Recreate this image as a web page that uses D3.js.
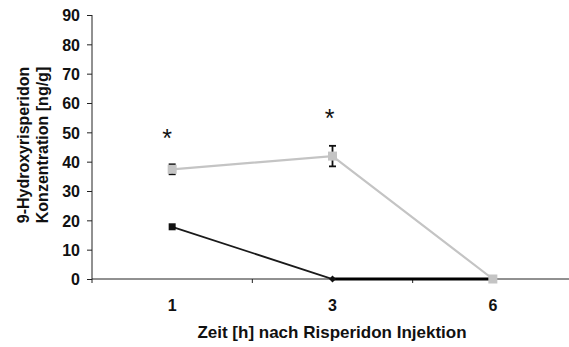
<!DOCTYPE html>
<html><head><meta charset="utf-8">
<script src="https://cdn.jsdelivr.net/npm/d3@7"></script>
<style>body{margin:0;background:#fff}svg{display:block}text{font-family:"Liberation Sans",Arial,sans-serif;font-weight:bold;fill:#111}</style>
</head><body>
<script>
const categories = ["1","3","6"];
const hydroxy = [37.4, 41.9, 0];      // gray series
const hydroxyErr = [1.7, 3.5, 0];
const black = [17.8, 0, 0];            // black series
const stars = [49.4, 56.3, null];
const yTicks = [0,10,20,30,40,50,60,70,80,90];

const W=569,H=347, x0=92, x1=573, yTop=15, yBot=279;
const svg=d3.select("body").append("svg").attr("width",W).attr("height",H);
const x=d3.scaleBand().domain(categories).range([x0,x1]);
const cx=d=>x(d)+x.bandwidth()/2;
const y=d3.scaleLinear().domain([0,90]).range([yBot,yTop]);

// y axis
const ya=svg.append("g").attr("transform",`translate(${x0},0)`).call(d3.axisLeft(y).tickValues(yTicks).tickSize(5).tickPadding(7));
ya.selectAll("text").style("font-size","16px").attr("dy","0.36em");
ya.select(".domain").attr("stroke","#222").attr("d",`M-0,${yTop}H0V${yBot}`);
ya.selectAll(".tick line").attr("stroke","#222");
// x axis
const xa=svg.append("g").attr("transform",`translate(0,${yBot})`);
xa.append("line").attr("x1",x0).attr("x2",W).attr("y1",0).attr("y2",0).attr("stroke","#222");
[0,1,2].forEach(i=>xa.append("line").attr("x1",x0+i*x.bandwidth()).attr("x2",x0+i*x.bandwidth()).attr("y1",0).attr("y2",4).attr("stroke","#222"));
xa.selectAll("text.cat").data(categories).enter().append("text").attr("class","cat")
 .attr("x",d=>cx(d)).attr("y",32).attr("text-anchor","middle").style("font-size","16px").text(d=>d);

// lines
const line=d3.line().x((d,i)=>cx(categories[i])).y(d=>y(d));
svg.append("path").datum(black).attr("d",line).attr("fill","none").attr("stroke","#1a1a1a").attr("stroke-width",1.8);
svg.append("path").datum(black.slice(1)).attr("d",d3.line().x((d,i)=>cx(categories[i+1])).y(d=>y(d)))
  .attr("fill","none").attr("stroke","#000").attr("stroke-width",3);
svg.append("path").datum(hydroxy).attr("d",line).attr("fill","none").attr("stroke","#c4c4c4").attr("stroke-width",2.2);

// error bars
hydroxy.forEach((v,i)=>{ const e=hydroxyErr[i]; if(!e) return; const c=cx(categories[i]);
  const g=svg.append("g").attr("stroke","#111").attr("stroke-width",1.8);
  g.append("line").attr("x1",c).attr("x2",c).attr("y1",y(v+e)).attr("y2",y(v-e));
  g.append("line").attr("x1",c-3.5).attr("x2",c+3.5).attr("y1",y(v+e)).attr("y2",y(v+e));
  g.append("line").attr("x1",c-3.5).attr("x2",c+3.5).attr("y1",y(v-e)).attr("y2",y(v-e));
});
// markers
hydroxy.forEach((v,i)=>svg.append("rect").attr("x",cx(categories[i])-4.5).attr("y",y(v)-4.5).attr("width",9).attr("height",9).attr("fill","#c4c4c4"));
black.forEach((v,i)=>{ const c=cx(categories[i]);
  if(i===0) svg.append("rect").attr("x",c-3.5).attr("y",y(v)-3.5).attr("width",7).attr("height",7).attr("fill","#111");
  else if(i===1) svg.append("path").attr("d",`M${c},${y(v)-3.5}L${c+3.5},${y(v)}L${c},${y(v)+3.5}L${c-3.5},${y(v)}Z`).attr("fill","#111");
});
// stars
const starDx=[-5,-3,0];
stars.forEach((v,i)=>{ if(v==null) return; svg.append("text").attr("x",cx(categories[i])+starDx[i]).attr("y",y(v)+13).attr("text-anchor","middle").style("font-size","25px").style("font-weight","normal").text("*");});

// axis titles
svg.append("text").attr("x",332).attr("y",338).attr("text-anchor","middle").style("font-size","17px").text("Zeit [h] nach Risperidon Injektion");
const yl=svg.append("text").attr("transform","translate(0,145) rotate(-90)").attr("text-anchor","middle").style("font-size","16px");
yl.append("tspan").attr("x",0).attr("y",29).text("9-Hydroxyrisperidon");
yl.append("tspan").attr("x",0).attr("y",48).text("Konzentration [ng/g]");
</script>
</body></html>
